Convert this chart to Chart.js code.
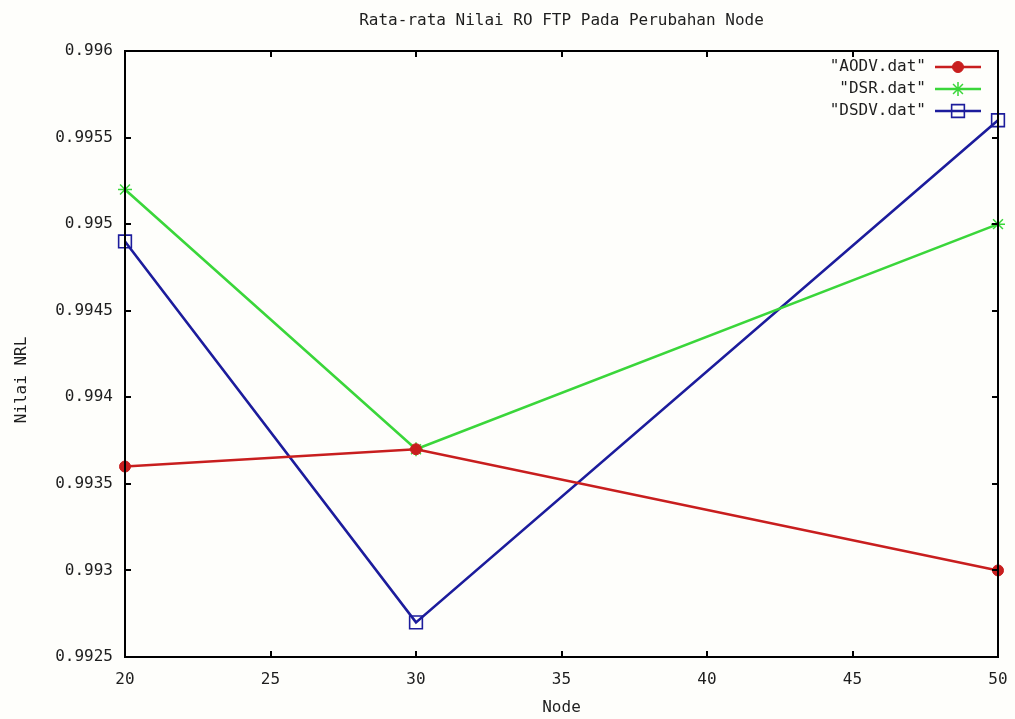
<!DOCTYPE html>
<html>
<head>
<meta charset="utf-8">
<title>Rata-rata Nilai RO FTP Pada Perubahan Node</title>
<script src="https://cdn.jsdelivr.net/npm/chart.js@4.4.0/dist/chart.umd.min.js"></script>
<style>
  html, body { margin: 0; padding: 0; background: #fefefb; }
  #wrap { width: 1015px; height: 719px; }
</style>
</head>
<body>
<div id="wrap"><canvas id="chart" width="1015" height="719"></canvas></div>
<script>
// data
const nodes = [20, 30, 50];
const aodv  = [0.9936, 0.9937, 0.9930];
const dsr   = [0.9952, 0.9937, 0.9950];
const dsdv  = [0.9949, 0.9927, 0.9956];
const seriesLabels = ['"AODV.dat"', '"DSR.dat"', '"DSDV.dat"'];
const xTicks = [20, 25, 30, 35, 40, 45, 50];
const yTicks = [0.9925, 0.993, 0.9935, 0.994, 0.9945, 0.995, 0.9955, 0.996];

const FAMILY = '"DejaVu Sans Mono", monospace';
const FONT = '16px ' + FAMILY;
const TXT  = '#1e1e1e';

function pts(ys) {
  return nodes.map((x, i) => ({ x: x, y: ys[i] }));
}

// gnuplot-ish frame, inward mirror ticks, title, axis names and key
const gnuFrame = {
  id: 'gnuFrame',
  afterDraw(chart) {
    const ctx = chart.ctx;
    const a = chart.chartArea;
    const xs = chart.scales.x, ys = chart.scales.y;
    ctx.save();
    ctx.strokeStyle = '#000';
    ctx.lineWidth = 2;
    ctx.beginPath();
    xTicks.forEach(v => {
      const px = Math.round(xs.getPixelForValue(v));
      ctx.moveTo(px, a.bottom); ctx.lineTo(px, a.bottom - 6);
      ctx.moveTo(px, a.top);    ctx.lineTo(px, a.top + 6);
    });
    yTicks.forEach(v => {
      const py = Math.round(ys.getPixelForValue(v));
      ctx.moveTo(a.left, py);  ctx.lineTo(a.left + 6, py);
      ctx.moveTo(a.right, py); ctx.lineTo(a.right - 6, py);
    });
    ctx.stroke();
    ctx.strokeRect(a.left, a.top, a.right - a.left, a.bottom - a.top);

    ctx.fillStyle = TXT;
    ctx.font = FONT;
    ctx.textAlign = 'center';
    ctx.textBaseline = 'middle';
    const cx = (a.left + a.right) / 2;
    ctx.fillText('Rata-rata Nilai RO FTP Pada Perubahan Node', cx, 21);
    ctx.fillText('Node', cx, 708);
    ctx.save();
    ctx.translate(22, 380);
    ctx.rotate(-Math.PI / 2);
    ctx.fillText('Nilai NRL', 0, 0);
    ctx.restore();

    // key, top right
    chart.data.datasets.forEach((ds, i) => {
      const y = 67 + i * 22;
      ctx.fillStyle = TXT;
      ctx.textAlign = 'right';
      ctx.fillText(ds.label, 926, y);
      ctx.strokeStyle = ds.borderColor;
      ctx.lineWidth = ds.borderWidth;
      ctx.beginPath();
      ctx.moveTo(935, y); ctx.lineTo(981, y);
      ctx.stroke();
      ctx.fillStyle = ds.pointBackgroundColor;
      ctx.strokeStyle = ds.pointBorderColor;
      ctx.lineWidth = ds.pointBorderWidth;
      Chart.helpers.drawPoint(ctx, {
        pointStyle: ds.pointStyle,
        radius: ds.pointRadius,
        borderWidth: ds.pointBorderWidth
      }, 958, y);
    });
    ctx.restore();
  }
};

const datasets = [
  { label: seriesLabels[0], data: pts(aodv), borderColor: '#c81e1e',
    pointStyle: 'circle', pointRadius: 5.5, pointBackgroundColor: '#c81e1e', pointBorderColor: '#c81e1e', pointBorderWidth: 1 },
  { label: seriesLabels[1], data: pts(dsr), borderColor: '#3ad63a',
    pointStyle: 'star', pointRadius: 7, pointBackgroundColor: '#3ad63a', pointBorderColor: '#3ad63a', pointBorderWidth: 1.5 },
  { label: seriesLabels[2], data: pts(dsdv), borderColor: '#1c1c9c',
    pointStyle: 'rect', pointRadius: 9, pointBackgroundColor: 'rgba(0,0,0,0)', pointBorderColor: '#1c1c9c', pointBorderWidth: 1.6 }
].map(d => Object.assign({ borderWidth: 2.6, tension: 0, clip: false, fill: false }, d));

new Chart(document.getElementById('chart'), {
  type: 'line',
  data: { datasets: datasets },
  plugins: [gnuFrame],
  options: {
    responsive: false,
    animation: false,
    events: [],
    layout: { padding: { left: 0, top: 51, right: 17, bottom: 0 } },
    plugins: { legend: { display: false }, title: { display: false }, tooltip: { enabled: false } },
    scales: {
      x: {
        type: 'linear', min: 20, max: 50,
        afterBuildTicks: s => { s.ticks = xTicks.map(v => ({ value: v })); },
        afterFit: s => { s.height = 62; s.paddingLeft = 0; s.paddingRight = 0; },
        grid: { display: false, drawTicks: false },
        border: { display: false },
        ticks: { color: TXT, font: { family: FAMILY, size: 16 }, padding: 13, maxRotation: 0 }
      },
      y: {
        type: 'linear', min: 0.9925, max: 0.996,
        afterBuildTicks: s => { s.ticks = yTicks.map(v => ({ value: v })); },
        afterFit: s => { s.width = 125; s.paddingTop = 0; s.paddingBottom = 0; },
        grid: { display: false, drawTicks: false },
        border: { display: false },
        ticks: {
          color: TXT, font: { family: FAMILY, size: 16 }, padding: 12,
          callback: v => String(Number(v.toFixed(4)))
        }
      }
    }
  }
});
</script>
</body>
</html>
